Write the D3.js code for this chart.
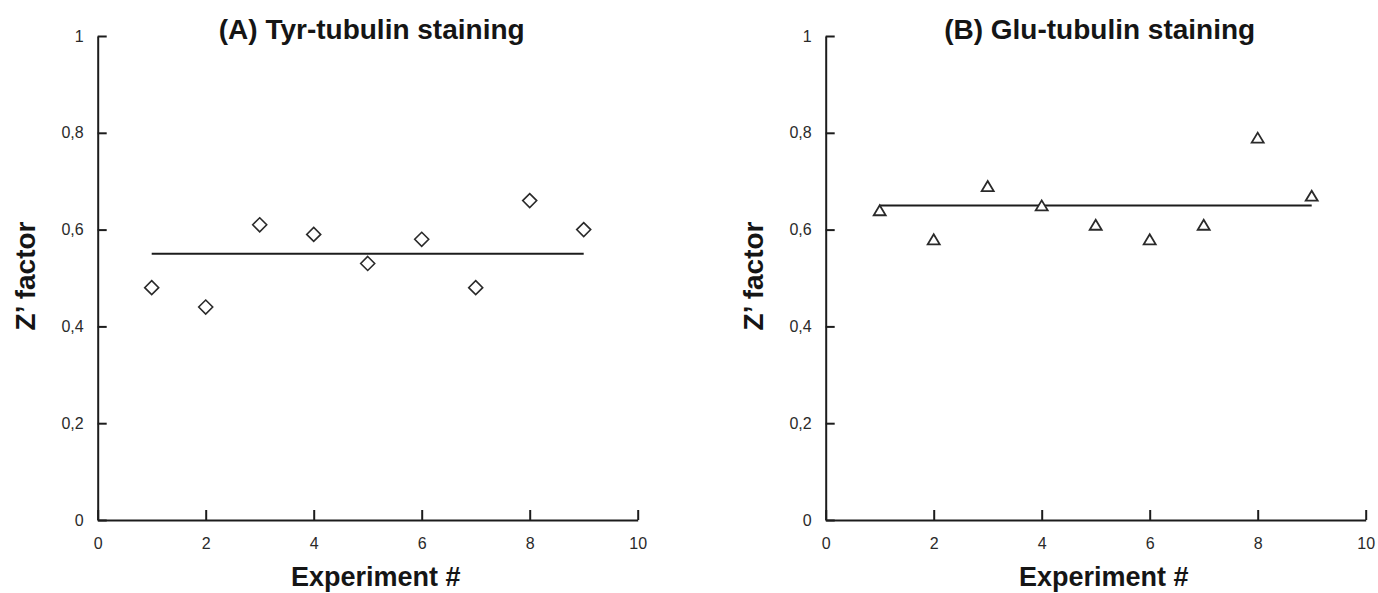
<!DOCTYPE html>
<html>
<head>
<meta charset="utf-8">
<script src="https://cdn.jsdelivr.net/npm/d3@7"></script>
<style>
  html, body { margin: 0; padding: 0; background: #fff; }
  svg { display: block; }
  .tick text { font-family: "Liberation Sans", Arial, sans-serif; font-size: 16px; fill: #2a2a2a; }
  .lbl { font-family: "Liberation Sans", Arial, sans-serif; font-weight: bold; font-size: 28px; fill: #151515; }
  .xl { font-size: 27px; }
</style>
</head>
<body>
<svg id="chart" width="1378" height="593"></svg>
<script>
// ---- data ----
const experiments = [1, 2, 3, 4, 5, 6, 7, 8, 9];
const tyrValues = [0.48, 0.44, 0.61, 0.59, 0.53, 0.58, 0.48, 0.66, 0.60];
const gluValues = [0.64, 0.58, 0.69, 0.65, 0.61, 0.58, 0.61, 0.79, 0.67];
const tyrMean = 0.55;
const gluMean = 0.65;
const meanSpan = [1, 9];
const xTicks = [0, 2, 4, 6, 8, 10];
const yTicks = [0, 0.2, 0.4, 0.6, 0.8, 1];
const yTickLabels = ["0", "0,2", "0,4", "0,6", "0,8", "1"];
const titles = ["(A) Tyr-tubulin staining", "(B) Glu-tubulin staining"];
const xTitle = "Experiment #";
const yTitle = "Z\u2019 factor";

// ---- layout ----
const svg = d3.select("#chart");
const ink = "#1c1c1c";
const panels = [
  { left: 97.7, right: 637.7, values: tyrValues, mean: tyrMean, marker: "diamond", title: titles[0] },
  { left: 825.7, right: 1365.7, values: gluValues, mean: gluMean, marker: "triangle", title: titles[1] }
];
const yTop = 36, yBottom = 520;

panels.forEach(p => {
  const x = d3.scaleLinear().domain([0, 10]).range([p.left, p.right]);
  const y = d3.scaleLinear().domain([0, 1]).range([yBottom, yTop]);
  const g = svg.append("g");

  // x axis
  const xa = g.append("g")
    .attr("transform", `translate(0,${yBottom})`)
    .call(d3.axisBottom(x).tickValues(xTicks).tickSizeInner(-10).tickSizeOuter(0).tickPadding(18).tickFormat(d3.format("d")));
  // y axis
  const ya = g.append("g")
    .attr("transform", `translate(${p.left},0)`)
    .call(d3.axisLeft(y).tickValues(yTicks).tickSizeInner(-9).tickSizeOuter(0).tickPadding(14)
      .tickFormat((d, i) => yTickLabels[i]));
  [xa, ya].forEach(a => {
    a.select(".domain").attr("stroke", ink).attr("stroke-width", 2);
    a.selectAll(".tick line").attr("stroke", ink).attr("stroke-width", 2);
    a.attr("font-family", null).attr("font-size", null);
  });

  // mean line
  g.append("line")
    .attr("x1", x(meanSpan[0])).attr("x2", x(meanSpan[1]))
    .attr("y1", y(p.mean)).attr("y2", y(p.mean))
    .attr("stroke", ink).attr("stroke-width", 2);

  // markers
  const pts = experiments.map((e, i) => [e, p.values[i]]);
  if (p.marker === "diamond") {
    g.selectAll("path.pt").data(pts).enter().append("path")
      .attr("class", "pt")
      .attr("d", d => {
        const cx = x(d[0]), cy = y(d[1]), r = 7;
        return `M${cx},${cy - r}L${cx + r},${cy}L${cx},${cy + r}L${cx - r},${cy}Z`;
      })
      .attr("fill", "#fff").attr("stroke", "#2a2a2a").attr("stroke-width", 1.6);
  } else {
    g.selectAll("path.pt").data(pts).enter().append("path")
      .attr("class", "pt")
      .attr("d", d => {
        const cx = x(d[0]), cy = y(d[1]), w = 6, h = 5;
        return `M${cx},${cy - h}L${cx + w},${cy + h}L${cx - w},${cy + h}Z`;
      })
      .attr("fill", "#fff").attr("stroke", "#2a2a2a").attr("stroke-width", 1.8);
  }

  // titles
  const cx = (p.left + p.right) / 2;
  g.append("text").attr("class", "lbl")
    .attr("x", cx + 4).attr("y", 39).attr("text-anchor", "middle").text(p.title);
  g.append("text").attr("class", "lbl xl")
    .attr("x", cx + 8).attr("y", 586).attr("text-anchor", "middle").text(xTitle);
  g.append("text").attr("class", "lbl")
    .attr("transform", `translate(${p.left - 62.7},276) rotate(-90)`)
    .attr("text-anchor", "middle").text(yTitle);
});
</script>
</body>
</html>
